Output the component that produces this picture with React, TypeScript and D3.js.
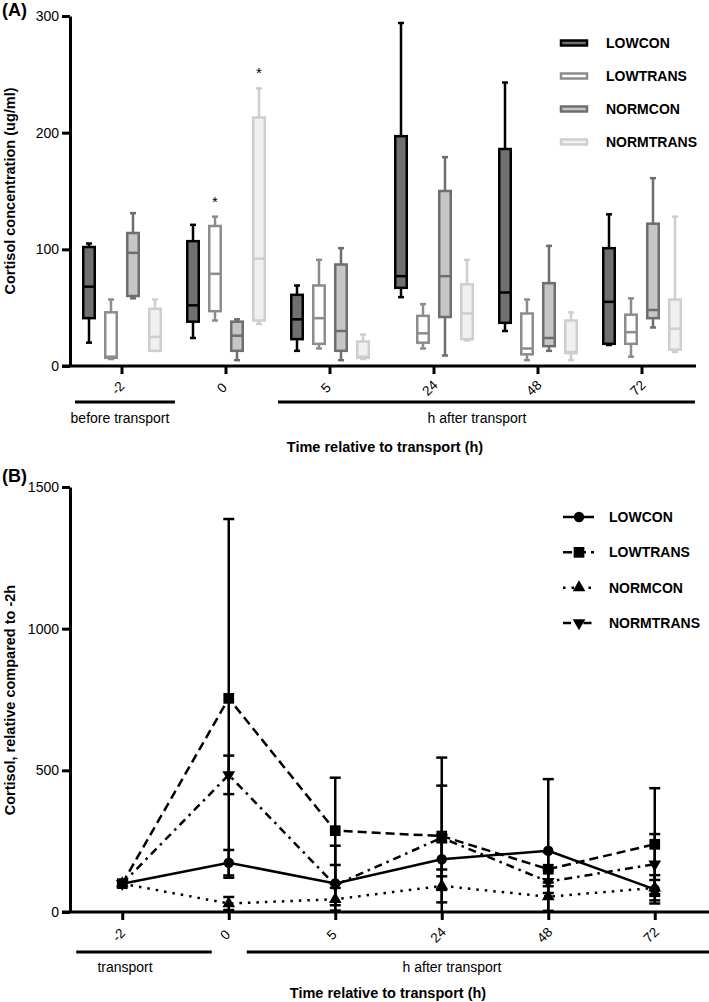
import React, { useEffect, useRef } from 'react';
import * as d3 from 'd3';

const times = ['-2', '0', '5', '24', '48', '72'];
const groups = ['LOWCON', 'LOWTRANS', 'NORMCON', 'NORMTRANS'];

// panel A box stats per time point: [min, q1, median, q3, max]
const lowconBox = [[20, 41, 68, 102, 105], [24, 38, 52, 107, 121], [13, 23, 40, 61, 69], [59, 67, 77, 197, 294], [30, 37, 63, 186, 243], [18, 19, 55, 101, 130]];
const lowtransBox = [[6, 7, 8, 46, 57], [39, 47, 79, 120, 128], [15, 19, 41, 69, 91], [15, 20, 28, 43, 53], [5, 10, 15, 45, 57], [8, 19, 29, 44, 58]];
const normconBox = [[58, 60, 97, 114, 131], [5, 13, 26, 38, 40], [5, 13, 30, 87, 101], [9, 42, 77, 150, 179], [13, 17, 24, 71, 103], [33, 41, 48, 122, 161]];
const normtransBox = [[13, 13, 25, 49, 57], [36, 39, 92, 213, 238], [6, 7, 8, 21, 27], [22, 23, 45, 70, 91], [5, 11, 12, 39, 46], [12, 14, 32, 57, 128]];
const boxStats = [lowconBox, lowtransBox, normconBox, normtransBox];
const starred = [{ time: '0', group: 'LOWTRANS' }, { time: '0', group: 'NORMTRANS' }];

// panel B mean and SD, relative to -2h
const lowconMean = [100, 174, 101, 186, 216, 80];
const lowconSd = [0, 45, 133, 60, 253, 50];
const lowtransMean = [100, 754, 287, 268, 151, 239];
const lowtransSd = [0, 633, 187, 277, 60, 198];
const normconMean = [100, 30, 45, 92, 54, 85];
const normconSd = [0, 23, 40, 58, 50, 28];
const normtransMean = [100, 484, 95, 262, 107, 169];
const normtransSd = [0, 68, 71, 184, 40, 106];
const means = [lowconMean, lowtransMean, normconMean, normtransMean];
const sds = [lowconSd, lowtransSd, normconSd, normtransSd];

const boxStroke = ['#000000', '#8c8c8c', '#6e6e6e', '#cecece'];
const boxFill = ['#707070', '#ffffff', '#c6c6c6', '#f0f0f0'];
const dashes = [null, '9,5', '2.5,6', '8,5,2.5,5'];
const symbols = [d3.symbolCircle, d3.symbolSquare, d3.symbolTriangle, d3.symbolTriangle];
const symbolSizes = [85, 115, 70, 70];

const App = () => {
  const svgRef = useRef<SVGSVGElement>(null);

  useEffect(() => {
    const svg = d3.select(svgRef.current);
    svg.selectAll('*').remove();
    svg.attr('font-family', 'Liberation Sans, Arial, Helvetica, sans-serif');

    const styleAxis = (g: any) => {
      g.selectAll('path, line').attr('stroke', '#000').attr('stroke-width', 3);
      g.selectAll('text').attr('font-size', 14).attr('fill', '#000');
    };

    // ---------- panel A ----------
    const xA = d3.scaleBand().domain(times).range([70, 694]);
    const inner = d3.scaleBand().domain(groups).range([-44, 44]);
    const yA = d3.scaleLinear().domain([0, 300]).range([366, 16]);
    const gA = svg.append('g');
    const bw = 11.5;

    groups.forEach((grp, gi) => {
      boxStats[gi].forEach((s, ti) => {
        const [mn, q1, md, q3, mx] = s;
        const cx = xA(times[ti])! + xA.bandwidth() / 2 + inner(grp)! + inner.bandwidth() / 2;
        const b = gA.append('g').attr('stroke', boxStroke[gi]).attr('stroke-width', 2.5).attr('fill', 'none');
        b.append('line').attr('x1', cx).attr('x2', cx).attr('y1', yA(mx)).attr('y2', yA(mn));
        b.append('line').attr('x1', cx - 3).attr('x2', cx + 3).attr('y1', yA(mx)).attr('y2', yA(mx));
        b.append('line').attr('x1', cx - 3).attr('x2', cx + 3).attr('y1', yA(mn)).attr('y2', yA(mn));
        b.append('rect').attr('x', cx - bw / 2).attr('width', bw)
          .attr('y', yA(q3)).attr('height', Math.max(0.5, yA(q1) - yA(q3))).attr('fill', boxFill[gi]);
        b.append('line').attr('x1', cx - bw / 2).attr('x2', cx + bw / 2).attr('y1', yA(md)).attr('y2', yA(md));
      });
    });

    starred.forEach(st => {
      const gi = groups.indexOf(st.group);
      const ti = times.indexOf(st.time);
      const cx = xA(st.time)! + xA.bandwidth() / 2 + inner(st.group)! + inner.bandwidth() / 2;
      gA.append('text').attr('x', cx).attr('y', yA(boxStats[gi][ti][4]) - 10)
        .attr('text-anchor', 'middle').attr('font-size', 15).text('*');
    });

    const yAxA = gA.append('g').attr('transform', 'translate(70,0)')
      .call(d3.axisLeft(yA).tickValues([0, 100, 200, 300]).tickFormat(d3.format('d')).tickSize(8).tickSizeOuter(0).tickPadding(3));
    styleAxis(yAxA);

    const xAxA = gA.append('g').attr('transform', 'translate(0,366)')
      .call(d3.axisBottom(xA).tickSize(8).tickSizeOuter(0));
    styleAxis(xAxA);
    xAxA.select('.domain').attr('d', 'M62,0H696');
    xAxA.selectAll('text').attr('y', 0).attr('dy', null).attr('text-anchor', 'middle')
      .attr('dominant-baseline', 'central').attr('font-size', 13.5)
      .attr('transform', 'translate(-4,22) rotate(-45)');

    const cA = (t: string) => xA(t)! + xA.bandwidth() / 2;
    gA.append('line').attr('x1', cA('-2') - 47).attr('x2', cA('-2') + 53).attr('y1', 402).attr('y2', 402)
      .attr('stroke', '#000').attr('stroke-width', 3);
    gA.append('line').attr('x1', xA('5')!).attr('x2', 695).attr('y1', 402).attr('y2', 402)
      .attr('stroke', '#000').attr('stroke-width', 3);
    gA.append('text').attr('x', 120).attr('y', 423).attr('text-anchor', 'middle').attr('font-size', 14).text('before transport');
    gA.append('text').attr('x', 477).attr('y', 423).attr('text-anchor', 'middle').attr('font-size', 14).text('h after transport');
    gA.append('text').attr('x', 385).attr('y', 452).attr('text-anchor', 'middle').attr('font-size', 14.5)
      .attr('font-weight', 'bold').text('Time relative to transport (h)');
    gA.append('text').attr('transform', 'translate(15,191) rotate(-90)').attr('text-anchor', 'middle')
      .attr('font-size', 14.5).attr('font-weight', 'bold').text('Cortisol concentration (ug/ml)');
    gA.append('text').attr('x', 2).attr('y', 16).attr('font-size', 18).attr('font-weight', 'bold').text('(A)');

    const legA = d3.scalePoint().domain(groups).range([43, 142]);
    groups.forEach((grp, gi) => {
      const y = legA(grp)!;
      gA.append('rect').attr('x', 561).attr('y', y - 2.5).attr('width', 26).attr('height', 5)
        .attr('fill', boxFill[gi]).attr('stroke', boxStroke[gi]).attr('stroke-width', 2.5);
      gA.append('text').attr('x', 606).attr('y', y + 5).attr('font-size', 14).attr('font-weight', 'bold').text(grp);
    });

    // ---------- panel B ----------
    const xB = d3.scalePoint().domain(times).range([69, 708]).padding(0.5);
    const yB = d3.scaleLinear().domain([0, 1500]).range([912, 487]);
    const gB = svg.append('g');

    groups.forEach((grp, gi) => {
      const line = d3.line<number>().x((_, i) => xB(times[i])!).y(d => yB(d));
      gB.append('path').datum(means[gi]).attr('d', line).attr('fill', 'none')
        .attr('stroke', '#000').attr('stroke-width', 2.5)
        .attr('stroke-dasharray', dashes[gi]);
    });

    groups.forEach((grp, gi) => {
      means[gi].forEach((m, ti) => {
        const sd = sds[gi][ti];
        if (!sd) return;
        const cx = xB(times[ti])!;
        const hi = m + sd;
        const lo = Math.max(0, m - sd);
        gB.append('line').attr('x1', cx).attr('x2', cx).attr('y1', yB(hi)).attr('y2', yB(lo))
          .attr('stroke', '#000').attr('stroke-width', 2.5);
        gB.append('line').attr('x1', cx - 5.5).attr('x2', cx + 5.5).attr('y1', yB(hi)).attr('y2', yB(hi))
          .attr('stroke', '#000').attr('stroke-width', 2.5);
        if (m - sd > 0) {
          gB.append('line').attr('x1', cx - 5.5).attr('x2', cx + 5.5).attr('y1', yB(lo)).attr('y2', yB(lo))
            .attr('stroke', '#000').attr('stroke-width', 2.5);
        }
      });
    });

    groups.forEach((grp, gi) => {
      const sym = d3.symbol().type(symbols[gi]).size(symbolSizes[gi]);
      means[gi].forEach((m, ti) => {
        gB.append('path').attr('d', sym()!)
          .attr('transform', `translate(${xB(times[ti])},${yB(m)})${gi === 3 ? ' rotate(180)' : ''}`)
          .attr('fill', '#000');
      });
    });

    const yAxB = gB.append('g').attr('transform', 'translate(70,0)')
      .call(d3.axisLeft(yB).tickValues([0, 500, 1000, 1500]).tickFormat(d3.format('d')).tickSize(8).tickSizeOuter(0).tickPadding(3));
    styleAxis(yAxB);

    const xAxB = gB.append('g').attr('transform', 'translate(0,912)')
      .call(d3.axisBottom(xB).tickSize(8).tickSizeOuter(0));
    styleAxis(xAxB);
    xAxB.select('.domain').attr('d', 'M62,0H709');
    xAxB.selectAll('text').attr('y', 0).attr('dy', null).attr('text-anchor', 'middle')
      .attr('dominant-baseline', 'central').attr('font-size', 13.5)
      .attr('transform', 'translate(-4,23) rotate(-45)');

    gB.append('line').attr('x1', xB('-2')! - 46).attr('x2', xB('0')! - 17).attr('y1', 952).attr('y2', 952)
      .attr('stroke', '#000').attr('stroke-width', 3);
    gB.append('line').attr('x1', xB('0')! + 18).attr('x2', 709).attr('y1', 952).attr('y2', 952)
      .attr('stroke', '#000').attr('stroke-width', 3);
    gB.append('text').attr('x', 125).attr('y', 972).attr('text-anchor', 'middle').attr('font-size', 14).text('transport');
    gB.append('text').attr('x', 452).attr('y', 972).attr('text-anchor', 'middle').attr('font-size', 14).text('h after transport');
    gB.append('text').attr('x', 388).attr('y', 998).attr('text-anchor', 'middle').attr('font-size', 14.5)
      .attr('font-weight', 'bold').text('Time relative to transport (h)');
    gB.append('text').attr('transform', 'translate(15,700) rotate(-90)').attr('text-anchor', 'middle')
      .attr('font-size', 14.5).attr('font-weight', 'bold').text('Cortisol, relative compared to -2h');
    gB.append('text').attr('x', 2).attr('y', 482).attr('font-size', 18).attr('font-weight', 'bold').text('(B)');

    const legB = d3.scalePoint().domain(groups).range([517, 623]);
    groups.forEach((grp, gi) => {
      const y = legB(grp)!;
      gB.append('line').attr('x1', 563).attr('x2', 594).attr('y1', y).attr('y2', y)
        .attr('stroke', '#000').attr('stroke-width', 2.5).attr('stroke-dasharray', dashes[gi]);
      const sym = d3.symbol().type(symbols[gi]).size(symbolSizes[gi]);
      gB.append('path').attr('d', sym()!)
        .attr('transform', `translate(579,${y})${gi === 3 ? ' rotate(180)' : ''}`).attr('fill', '#000');
      gB.append('text').attr('x', 609).attr('y', y + 5).attr('font-size', 14).attr('font-weight', 'bold').text(grp);
    });
  }, []);

  return (
    <svg ref={svgRef} width={709} height={1002}
      style={{ position: 'absolute', left: 0, top: 0, background: '#fff' }} />
  );
};

export default App;
